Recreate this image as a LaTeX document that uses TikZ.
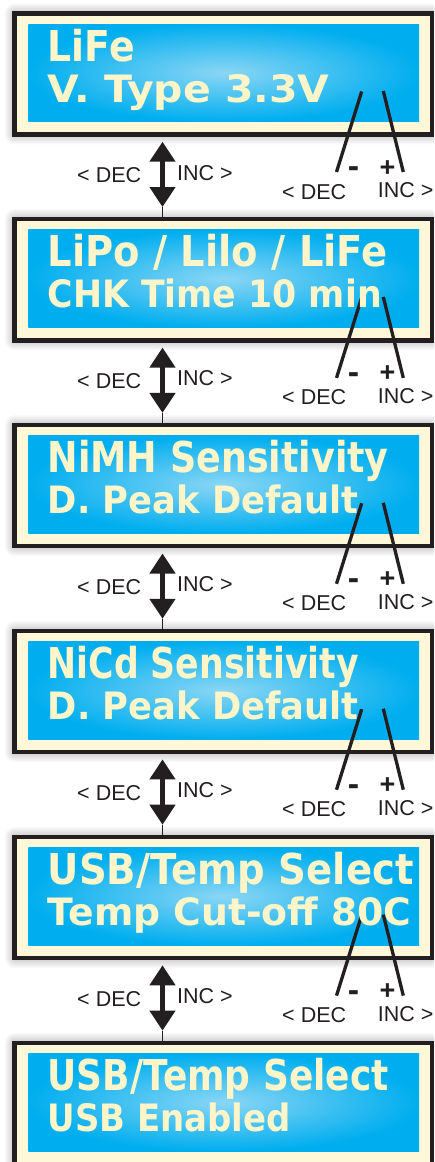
\documentclass[tikz,border=0pt]{standalone}
\usepackage{fontspec}
\setmainfont{Liberation Sans}
\newfontfamily\lcdfont{DejaVu Sans}
\usetikzlibrary{arrows.meta}
\definecolor{lcdblue}{HTML}{00AEEF}
\definecolor{lcdlight}{HTML}{8AD6F5}
\definecolor{cream}{HTML}{FFF8D8}
\definecolor{lcdtext}{HTML}{FFF5C8}
\definecolor{frame}{HTML}{231F20}
\tikzset{
  panelbox/.style={rectangle, draw=frame, line width=4.5pt, fill=cream,
    minimum width=417.3pt, minimum height=121.1pt, inner sep=0pt},
  screen/.style={rectangle, inner color=lcdlight, outer color=lcdblue,
    minimum width=390.7pt, minimum height=97.5pt, inner sep=0pt},
  lcdA/.style={anchor=base west, inner sep=0pt, text=lcdtext,
    font=\lcdfont\bfseries\fontsize{42.5}{44}\selectfont},
  lcdB/.style={anchor=base west, inner sep=0pt, text=lcdtext,
    font=\lcdfont\bfseries\fontsize{37.7}{40}\selectfont},
  pointer/.style={draw=frame, line width=3.3pt},
  dblarrow/.style={draw=frame, line width=4.5pt,
    {Triangle[width=25pt,length=20pt]}-{Triangle[width=25pt,length=20pt]}},
  lab/.style={inner sep=0pt, text=frame, font=\fontsize{21.5}{24}\selectfont},
  minussign/.style={inner sep=0pt, text=frame, font=\bfseries\fontsize{34}{34}\selectfont},
  plussign/.style={inner sep=0pt, text=frame, font=\bfseries\fontsize{27}{27}\selectfont}
}
\newcommand\lcdpanel[2]{%
  \foreach \k in {1,...,10}{\fill[black, fill opacity=0.02, rounded corners=\k pt]
    (14.7-\k,#2+2.3-\k) rectangle (432+\k,#2+123.4+\k);}
  \node[panelbox] (#1) at (223.35,#2+62.85) {};
  \node[screen] (#1s) at (223.65,#2+61.75) {};
}
\newcommand\pointers[2]{%
  \coordinate (#1m) at (361.7,#2+80.5);
  \coordinate (#1me) at (336.5,#2+161);
  \coordinate (#1p) at (383.3,#2+80);
  \coordinate (#1pe) at (403.3,#2+161);
  \draw[pointer] (#1m) -- (#1me);
  \draw[pointer] (#1p) -- (#1pe);
}
\newcommand\lcdtext[6]{%
  \node[lcdA] (#1a) at (47.5,#2+50) {\resizebox{#4pt}{\height}{#3}};
  \node[lcdB] (#1b) at (47.5,#2+91) {\resizebox{#6pt}{\height}{#5}};
}
\newcommand\gaplabels[3]{%
  \coordinate (#1t) at (162.5,#2+130.7);
  \coordinate (#1d) at (162.5,#2+196);
  \draw[dblarrow] (#1t) -- (#1d);
  \draw[line width=0.5pt, frame] (#1d) -- (#1d |- #3.north);
  \node[lab, anchor=base] (#1l) at (109.2,#2+171.7) {< DEC};
  \node[lab, anchor=base] (#1r) at (204.9,#2+169) {INC >};
  \node[minussign, anchor=base] (#1mi) at (353.5,#2+166.6) {-};
  \node[plussign, anchor=base] (#1pl) at (387.5,#2+165) {+};
  \node[lab, anchor=base] (#1dec) at (314.2,#2+188) {< DEC};
  \node[lab, anchor=base east] (#1inc) at (433.6,#2+186.5) {INC >};
}
\begin{document}
\begin{tikzpicture}[x=1pt,y=-1pt]
\useasboundingbox (0,0) rectangle (434,1162);
\clip (0,0) rectangle (434,1162);
\fill[white] (0,0) rectangle (434,1162);
\lcdpanel{p1}{11}
\lcdpanel{p2}{216.9}
\lcdpanel{p3}{422.8}
\lcdpanel{p4}{628.7}
\lcdpanel{p5}{834.6}
\lcdpanel{p6}{1040.5}
\pointers{p1}{11}
\pointers{p2}{216.9}
\pointers{p3}{422.8}
\pointers{p4}{628.7}
\pointers{p5}{834.6}
\lcdtext{p1}{11}{LiFe}{87}{V. Type 3.3V}{282}
\lcdtext{p2}{216.9}{LiPo / Lilo / LiFe}{340}{CHK Time 10 min}{334}
\lcdtext{p3}{422.8}{NiMH Sensitivity}{341}{D. Peak Default}{311}
\lcdtext{p4}{628.7}{NiCd Sensitivity}{311}{D. Peak Default}{311}
\lcdtext{p5}{834.6}{USB/Temp Select}{366}{Temp Cut-off 80C}{364}
\lcdtext{p6}{1040.5}{USB/Temp Select}{341}{USB Enabled}{243}
\gaplabels{g1}{11}{p2}
\gaplabels{g2}{216.9}{p3}
\gaplabels{g3}{422.8}{p4}
\gaplabels{g4}{628.7}{p5}
\gaplabels{g5}{834.6}{p6}
\end{tikzpicture}
\end{document}
